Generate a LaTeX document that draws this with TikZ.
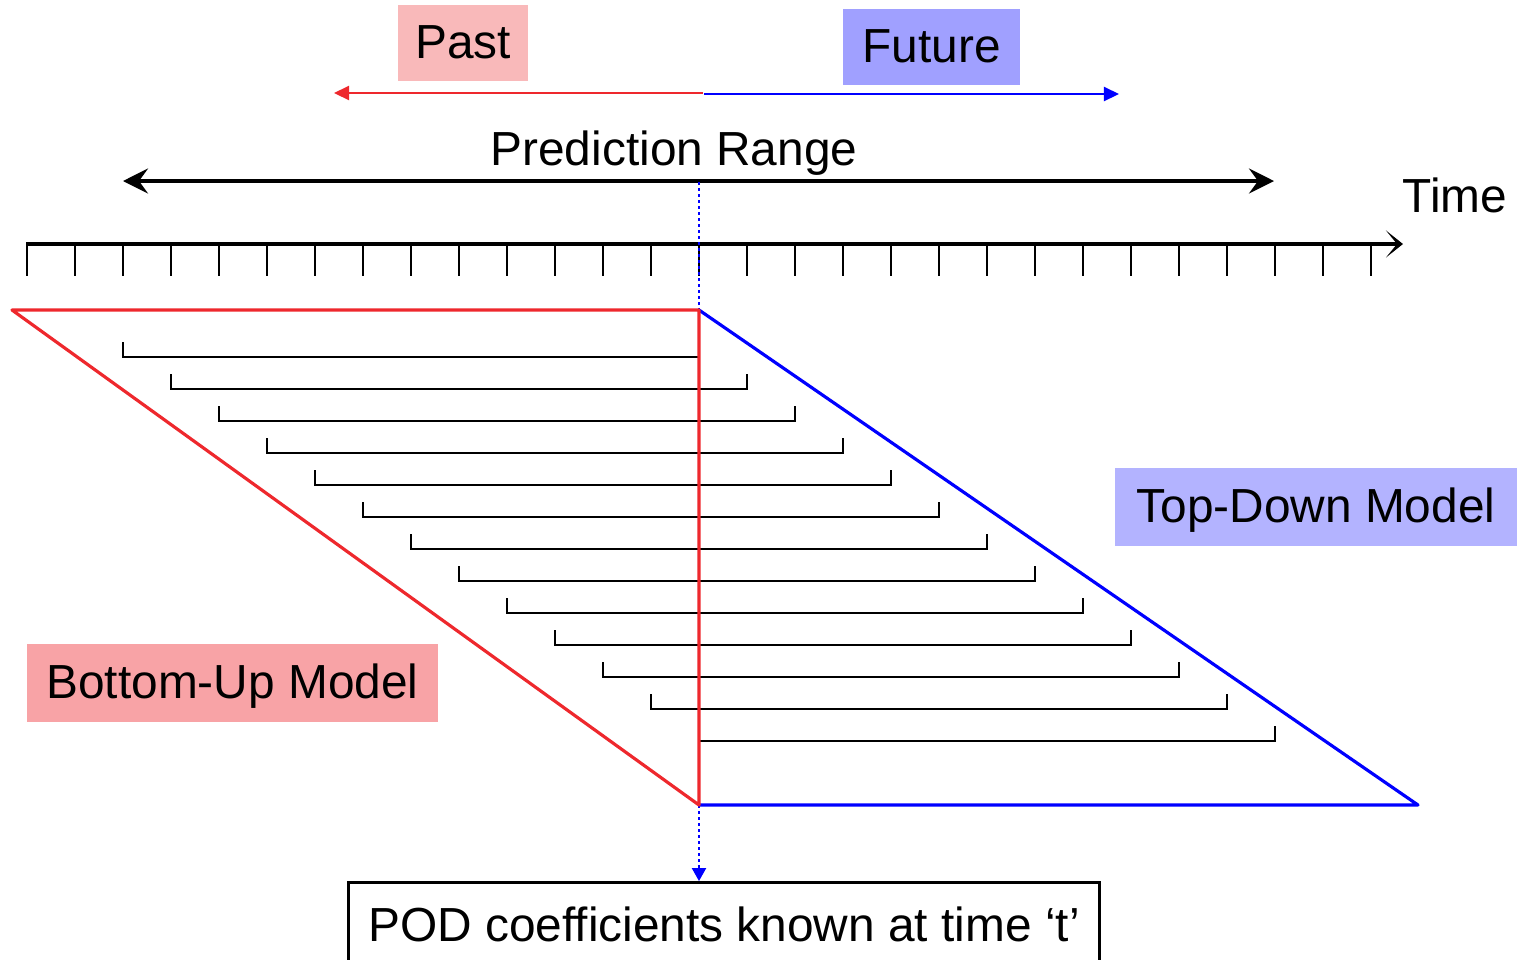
\documentclass[tikz,border=0pt]{standalone}
\usepackage{fontspec}
\setmainfont{Liberation Sans}
\usetikzlibrary{arrows.meta}

\definecolor{pastfill}{RGB}{249,185,186}
\definecolor{futurefill}{RGB}{160,160,255}
\definecolor{topdownfill}{RGB}{179,179,255}
\definecolor{bottomupfill}{RGB}{248,163,166}
\definecolor{modelred}{RGB}{238,40,45}
\definecolor{modelblue}{RGB}{0,0,255}

\begin{document}
\begin{tikzpicture}[x=0.01cm, y=-0.01cm,
        every node/.style={font=\fontsize{13.6}{16}\selectfont, inner sep=0pt,
            text height=1.08em, text depth=0.2em},
        label box/.style={rectangle, minimum height=0.76cm},
        bracket/.style={black, line width=0.6pt},
        tick/.style={black, line width=0.8pt},
        dotline/.style={modelblue, line width=0.6pt, dash pattern=on 0.03cm off 0.03cm}]
    \useasboundingbox (0,0) rectangle (1523,960);
    \clip (0,0) rectangle (1523,960);

    % labels
    \node[label box, fill=pastfill, minimum width=1.30cm] (past) at (463,43) {Past};
    \node[label box, fill=futurefill, minimum width=1.77cm] (future) at (931.5,47) {Future};
    \node (range) at (674,150) {Prediction Range};
    \node (time) at (1455,197) {Time};
    \node[label box, fill=topdownfill, minimum width=4.02cm, minimum height=0.77cm] (topdown) at (1316,507) {Top-Down Model};
    \node[label box, fill=bottomupfill, minimum width=4.11cm, minimum height=0.77cm] (bottomup) at (232.5,683) {Bottom-Up Model};
    \node[draw, line width=0.8pt, minimum width=7.5cm, minimum height=0.87cm] (pod) at (724,926) {POD coefficients known at time `t'};

    % past and future arrows
    \coordinate (now) at (703,93);
    \coordinate (pastend) at (334,93);
    \coordinate (nowb) at (704,94);
    \coordinate (futureend) at (1119,94);
    \draw[modelred, line width=0.6pt, -{Triangle[length=0.15cm, width=0.14cm]}] (now) -- (pastend);
    \draw[modelblue, line width=0.6pt, -{Triangle[length=0.15cm, width=0.14cm]}] (nowb) -- (futureend);

    % prediction range
    \coordinate (rangeleft) at (123,181);
    \coordinate (rangeright) at (1274,181);
    \draw[line width=1pt, {Stealth[length=0.25cm, width=0.25cm, inset=0.09cm]}-{Stealth[length=0.25cm, width=0.25cm, inset=0.09cm]}] (rangeleft) -- (rangeright);

    % time axis
    \coordinate (axisleft) at (26,244);
    \coordinate (axisright) at (1403,244);
    \draw[line width=1pt, -{Stealth[length=0.17cm, width=0.27cm, inset=0.11cm]}] (axisleft) -- (axisright);
    \foreach \k in {0,...,28}
        \draw[tick] (27+48*\k,244) -- (27+48*\k,276);

    % dotted line at time t
    \coordinate (ttop) at (699,182);
    \coordinate (tmid) at (699,310);
    \coordinate (tbot) at (699,805);
    \draw[dotline] (ttop) -- (tmid);
    \draw[dotline, -{Triangle[length=0.13cm, width=0.14cm]}] (tbot) -- (tbot |- pod.north);

    % prediction windows
    \foreach \k in {0,...,12}
        \draw[bracket] (123+48*\k,342+32*\k) -- (123+48*\k,357+32*\k)
            -- (699+48*\k,357+32*\k) -- (699+48*\k,342+32*\k);

    % model triangles
    \coordinate (bl) at (12,310);
    \coordinate (tr) at (1418,805);
    \draw[modelblue, line width=0.9pt, line join=round] (tmid) -- (tr) -- (tbot);
    \draw[modelred, line width=0.9pt, line join=round] (bl) -- (tmid) -- (tbot) -- cycle;
\end{tikzpicture}
\end{document}
